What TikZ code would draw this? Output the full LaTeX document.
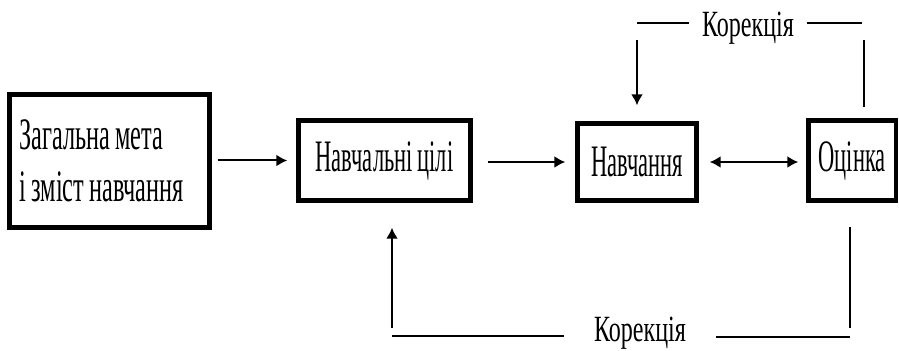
\documentclass[tikz,border=0pt]{standalone}
\usepackage{fontspec}
\setmainfont{Liberation Serif}
\newfontfamily\boxfont[FakeStretch=0.5,WordSpace=0.85]{Liberation Serif}
\newfontfamily\wideboxfont[FakeStretch=0.54,WordSpace=0.85]{Liberation Serif}
\newfontfamily\lblfont[FakeStretch=0.65,WordSpace=0.6]{Liberation Serif}
\usetikzlibrary{arrows.meta}
\begin{document}
\begin{tikzpicture}[x=0.5pt,y=-0.5pt,
  box/.style={draw, line width=2.2pt, inner sep=0pt, font=\boxfont\fontsize{22.5}{26}\selectfont},
  conn/.style={line width=1pt},
  tip/.tip={Latex[length=5.5pt,width=6pt]},
  arr/.style={conn, -tip},
  lbl/.style={font=\lblfont\fontsize{18.5}{20}\selectfont, inner ysep=0pt}]
\useasboundingbox (0,0) rectangle (899,351);
% boxes
\node[box, font=\wideboxfont\fontsize{22.5}{26}\selectfont, minimum width=100pt, minimum height=66.5pt, align=flush left, text width=90pt] (b1) at (109.5,161) {Загальна мета\\і зміст навчання};
\node[box, minimum width=86pt, minimum height=40pt] (b2) at (384.5,160.5) {Навчальні цілі};
\node[box, minimum width=59.5pt, minimum height=38.5pt] (b3) at (637,162) {Навчання};
\node[box, minimum width=43.75pt, minimum height=40pt] (b4) at (852.25,160.5) {Оцінка};
% main arrows
\draw[arr, shorten <=3pt, shorten >=4.5pt] (b1.east |- b2) -- (b2.west);
\draw[arr, shorten <=7.5pt, shorten >=5pt] (b2.east |- b3) -- (b3.west);
\draw[conn, tip-tip, shorten <=5.5pt, shorten >=4pt] (b3.east) -- (b3.east -| b4.west);
% top feedback
\node[lbl, inner xsep=6.5pt] (k1) at (748,28) {Корекція};
\coordinate (hr) at (862,23);
\coordinate (hl) at (637,23);
\coordinate (tr) at (864,40);
\coordinate (tl) at (637,40);
\draw[conn, shorten <=5.5pt] (tr |- b4.north) -- (tr);
\draw[conn] (k1.east |- hr) -- (hr);
\draw[conn] (k1.west |- hl) -- (hl);
\draw[arr, shorten >=8pt] (tl) -- (b3.north);
% bottom feedback
\node[lbl, inner xsep=15pt] (k2) at (640,333) {Корекція};
\coordinate (bl) at (392,336);
\coordinate (br) at (850,337);
\coordinate (blv) at (392,328);
\coordinate (brv) at (850,328);
\draw[conn] (k2.west |- bl) -- (bl);
\draw[conn] (k2.east |- br) -- (br);
\draw[arr, shorten >=12.5pt] (blv) -- (blv |- b2.south);
\draw[conn, shorten >=12pt] (brv) -- (brv |- b4.south);
\end{tikzpicture}
\end{document}
